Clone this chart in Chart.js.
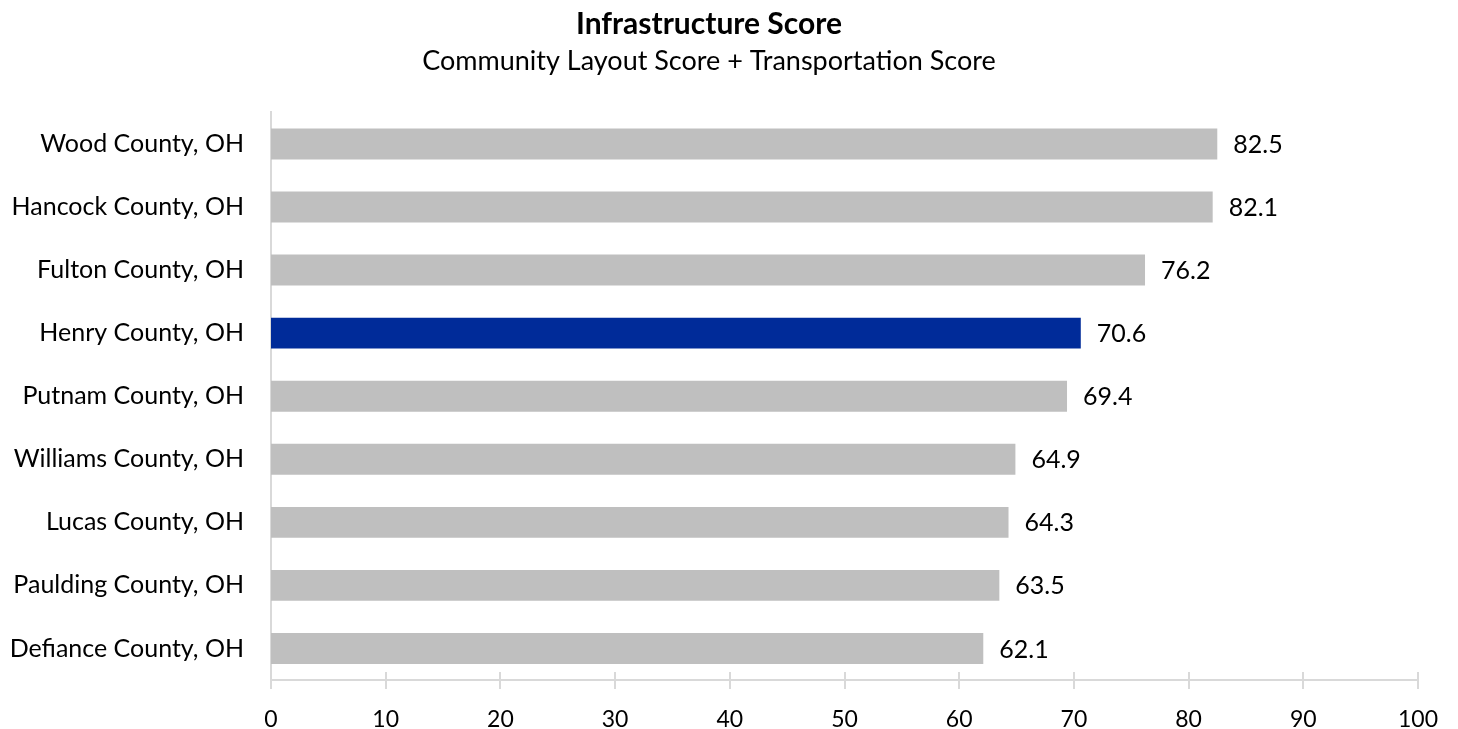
<!DOCTYPE html>
<html>
<head>
<meta charset="utf-8">
<script src="https://cdn.jsdelivr.net/npm/chart.js@4/dist/chart.umd.min.js"></script>
<style>
  html, body { margin: 0; padding: 0; background: #fff; }
  #wrap { width: 1458px; height: 729px; }
</style>
</head>
<body>
<div id="wrap"><canvas id="chart"></canvas></div>
<script>
// Chart data
const counties = [
    'Wood County, OH',
    'Hancock County, OH',
    'Fulton County, OH',
    'Henry County, OH',
    'Putnam County, OH',
    'Williams County, OH',
    'Lucas County, OH',
    'Paulding County, OH',
    'Defiance County, OH'
];
const scores = [82.5, 82.1, 76.2, 70.6, 69.4, 64.9, 64.3, 63.5, 62.1];
const highlightCounty = 'Henry County, OH';
const xTicks = [0, 10, 20, 30, 40, 50, 60, 70, 80, 90, 100];

const FONT = 'Lato, "Open Sans", sans-serif';
const AXIS_COLOR = '#d9d9d9';

const barColors = counties.map(c => c === highlightCounty ? '#002b99' : '#bfbfbf');

// Value labels at the end of each bar
const valueLabels = {
    id: 'valueLabels',
    afterDatasetsDraw(chart) {
        const ctx = chart.ctx;
        const meta = chart.getDatasetMeta(0);
        ctx.save();
        ctx.font = '25px ' + FONT;
        ctx.fillStyle = '#000';
        ctx.textAlign = 'left';
        ctx.textBaseline = 'middle';
        meta.data.forEach((bar, i) => {
            ctx.fillText(scores[i].toFixed(1), bar.x + 16, bar.y + 1);
        });
        ctx.restore();
    }
};

// Excel style tick marks crossing the x axis
const crossTicks = {
    id: 'crossTicks',
    afterDraw(chart) {
        const ctx = chart.ctx;
        const x = chart.scales.x;
        const bottom = chart.chartArea.bottom;
        ctx.save();
        ctx.strokeStyle = AXIS_COLOR;
        ctx.lineWidth = 2;
        xTicks.forEach(v => {
            const px = Math.round(x.getPixelForValue(v));
            ctx.beginPath();
            ctx.moveTo(px, bottom - 8);
            ctx.lineTo(px, bottom + 9);
            ctx.stroke();
        });
        ctx.restore();
    }
};

new Chart(document.getElementById('chart'), {
    type: 'bar',
    data: {
        labels: counties,
        datasets: [{
            data: scores,
            backgroundColor: barColors,
            barPercentage: 0.49,
            categoryPercentage: 1
        }]
    },
    options: {
        indexAxis: 'y',
        responsive: true,
        maintainAspectRatio: false,
        animation: false,
        layout: { padding: { left: 0, right: 40, top: 0, bottom: 0 } },
        plugins: {
            legend: { display: false },
            tooltip: { enabled: false },
            title: {
                display: true,
                text: 'Infrastructure Score',
                color: '#000',
                font: { family: FONT, size: 30, weight: 'bold' },
                padding: { top: 6, bottom: 3 }
            },
            subtitle: {
                display: true,
                text: 'Community Layout Score + Transportation Score',
                color: '#000',
                font: { family: FONT, size: 27 },
                padding: { top: 0, bottom: 35 }
            }
        },
        scales: {
            x: {
                min: 0,
                max: 100,
                afterBuildTicks: s => { s.ticks = xTicks.map(v => ({ value: v })); },
                grid: { display: false },
                border: { display: true, color: AXIS_COLOR, width: 2 },
                ticks: {
                    color: '#000',
                    font: { family: FONT, size: 23 },
                    padding: 18
                },
                afterFit: s => { s.height = 49; }
            },
            y: {
                grid: { display: false },
                border: { display: true, color: AXIS_COLOR, width: 2 },
                ticks: {
                    color: '#000',
                    font: { family: FONT, size: 25 },
                    padding: 19
                },
                afterFit: s => { s.width = 271; }
            }
        }
    },
    plugins: [valueLabels, crossTicks]
});
</script>
</body>
</html>
